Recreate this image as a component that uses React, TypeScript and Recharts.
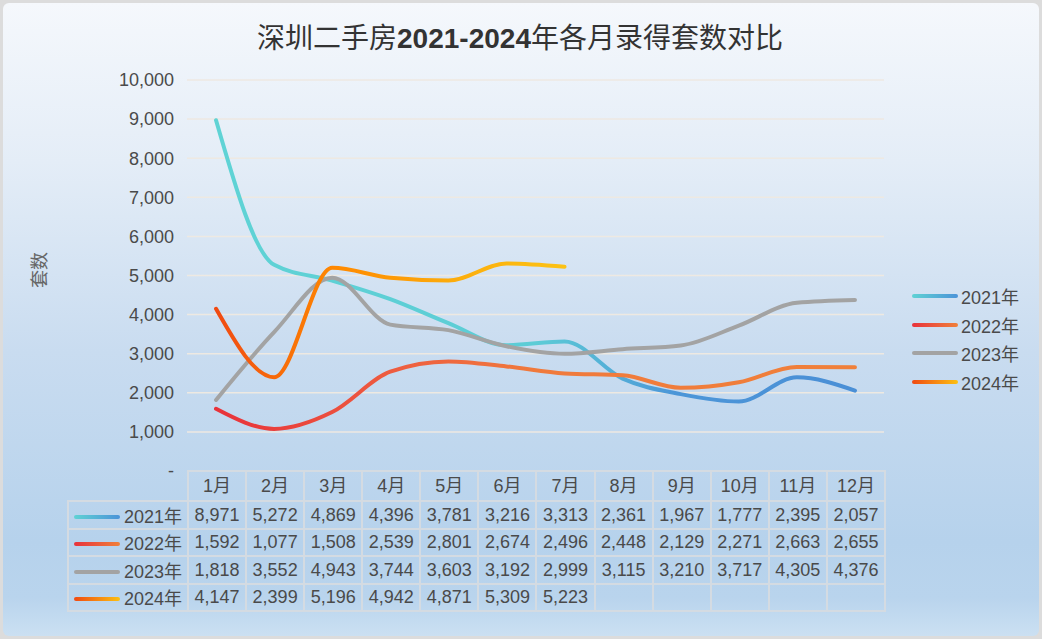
import React from "react";
import { LineChart, Line, XAxis, YAxis, CartesianGrid } from "recharts";

const months = ["1月", "2月", "3月", "4月", "5月", "6月", "7月", "8月", "9月", "10月", "11月", "12月"];
const y2021 = [8971, 5272, 4869, 4396, 3781, 3216, 3313, 2361, 1967, 1777, 2395, 2057];
const y2022 = [1592, 1077, 1508, 2539, 2801, 2674, 2496, 2448, 2129, 2271, 2663, 2655];
const y2023 = [1818, 3552, 4943, 3744, 3603, 3192, 2999, 3115, 3210, 3717, 4305, 4376];
const y2024 = [4147, 2399, 5196, 4942, 4871, 5309, 5223];
const yTicks = [0, 1000, 2000, 3000, 4000, 5000, 6000, 7000, 8000, 9000, 10000];

const series = [
  { key: "2021年", values: y2021, id: "g2021", css: "linear-gradient(to right, #5fd2d4, #4b93d8)",
    stops: [["0", "#5fd3d5"], ["0.5", "#5cccd6"], ["0.72", "#4c96d8"], ["1", "#4a8fd6"]] },
  { key: "2022年", values: y2022, id: "g2022", css: "linear-gradient(to right, #e8323c, #f0803a)",
    stops: [["0", "#e8323a"], ["0.3", "#ee6040"], ["0.5", "#f07a3c"], ["1", "#f0803a"]] },
  { key: "2023年", values: y2023, id: "g2023", css: "linear-gradient(to right, #a3a3a3, #a3a3a3)",
    stops: [["0", "#a3a3a3"], ["1", "#a3a3a3"]] },
  { key: "2024年", values: y2024, id: "g2024", css: "linear-gradient(to right, #f04a12, #fcc012)",
    stops: [["0", "#f04a12"], ["0.35", "#ff8a00"], ["0.7", "#fcae0c"], ["1", "#fcc214"]] },
];

const data = months.map((m, i) => {
  const row: Record<string, string | number | null> = { month: m };
  series.forEach((s) => {
    row[s.key] = i < s.values.length ? s.values[i] : null;
  });
  return row;
});

const font = "'Liberation Sans', Arial, 'Noto Sans CJK SC', sans-serif";
const textColor = "#4a4a4a";

// plot area: x 187..884, y 80..471
const plotLeft = 187;
const plotRight = 884;
const colW = (plotRight - plotLeft) / 12;
const borderColor = "#d4dbe2";

function fmt(v: number) {
  return v === 0 ? "-" : v.toLocaleString("en-US");
}

export default function App() {
  return (
    <div style={{ position: "fixed", left: 0, top: 0, width: 1042, height: 639, background: "#dcdcdc", fontFamily: font }}>
      <div
        style={{
          position: "absolute", left: 3, top: 3, right: 3, bottom: 3, borderRadius: 6,
          background: "linear-gradient(to bottom, #f5f8fc 0%, #e4edf7 25%, #c9dcf0 55%, #b6d2ec 85%, #b9d4ed 94%, #cbe0f2 100%)",
        }}
      />
      {/* title */}
      <div style={{ position: "absolute", left: 0, width: 1040, top: 18, textAlign: "center", fontSize: 28, color: "#333", lineHeight: "36px" }}>
        <span style={{ fontFamily: "'Noto Sans CJK SC', sans-serif" }}>深圳二手房</span>
        <span style={{ fontWeight: 700 }}>2021-2024</span>
        <span style={{ fontFamily: "'Noto Sans CJK SC', sans-serif" }}>年各月录得套数对比</span>
      </div>
      {/* y axis title */}
      <div style={{ position: "absolute", left: 38, top: 270, transform: "translate(-50%, -50%) rotate(-90deg)", fontSize: 18, color: "#666", fontFamily: "'Noto Sans CJK SC', sans-serif", whiteSpace: "nowrap" }}>
        套数
      </div>
      <div style={{ position: "absolute", left: 0, top: 0 }}>
        <LineChart width={1042} height={639} data={data} margin={{ top: 80, right: 1042 - plotRight, bottom: 639 - 471, left: 0 }}>
          <defs>
            {series.map((s) => (
              <linearGradient key={s.id} id={s.id} x1="0" y1="0" x2="1" y2="0">
                {s.stops.map(([o, c]) => (
                  <stop key={o} offset={o} stopColor={c} />
                ))}
              </linearGradient>
            ))}
          </defs>
          <CartesianGrid vertical={false} stroke="#eee9e2" strokeWidth={1.5} />
          <XAxis dataKey="month" hide padding={{ left: colW / 2, right: colW / 2 }} />
          <YAxis
            width={plotLeft}
            domain={[0, 10000]}
            ticks={yTicks}
            tickFormatter={fmt}
            axisLine={false}
            tickLine={false}
            tickSize={0}
            tickMargin={13}
            tick={{ fill: textColor, fontSize: 18, fontFamily: font }}
          />
          {series.map((s) => (
            <Line
              key={s.key}
              type="monotone"
              dataKey={s.key}
              stroke={`url(#${s.id})`}
              strokeWidth={4}
              strokeLinecap="round"
              dot={false}
              activeDot={false}
              connectNulls={false}
              isAnimationActive={false}
            />
          ))}
        </LineChart>
      </div>
      {/* right legend */}
      {series.map((s, i) => (
        <div key={s.key} style={{ position: "absolute", left: 912, top: 296 + i * 28.7 - 12, height: 24, display: "flex", alignItems: "center", fontSize: 18, color: textColor }}>
          <span style={{ display: "inline-block", width: 46, height: 4, borderRadius: 2, background: s.css, marginRight: 3 }} />
          <span>{s.key}</span>
        </div>
      ))}
      {/* data table */}
      <table
        style={{
          position: "absolute", left: plotLeft - 120, top: 470, borderCollapse: "collapse", tableLayout: "fixed",
          fontSize: 18, lineHeight: "20px", color: textColor, fontFamily: font,
        }}
      >
        <colgroup>
          <col style={{ width: 120 }} />
          {months.map((m) => (
            <col key={m} style={{ width: colW }} />
          ))}
        </colgroup>
        <tbody>
          <tr style={{ height: 30 }}>
            <td style={{ padding: 0 }} />
            {months.map((m) => (
              <td key={m} style={{ border: `2px solid ${borderColor}`, textAlign: "center", padding: 0 }}>{m}</td>
            ))}
          </tr>
          {series.map((s) => (
            <tr key={s.key} style={{ height: 27.5 }}>
              <td style={{ border: `2px solid ${borderColor}`, padding: 0, whiteSpace: "nowrap" }}>
                <span style={{ display: "inline-flex", alignItems: "center" }}>
                  <span style={{ display: "inline-block", width: 46, height: 4, borderRadius: 2, background: s.css, marginLeft: 5, marginRight: 4 }} />
                  <span>{s.key}</span>
                </span>
              </td>
              {months.map((m, i) => (
                <td key={m} style={{ border: `2px solid ${borderColor}`, textAlign: "center", padding: 0, whiteSpace: "nowrap" }}>
                  {i < s.values.length ? s.values[i].toLocaleString("en-US") : ""}
                </td>
              ))}
            </tr>
          ))}
        </tbody>
      </table>
    </div>
  );
}
